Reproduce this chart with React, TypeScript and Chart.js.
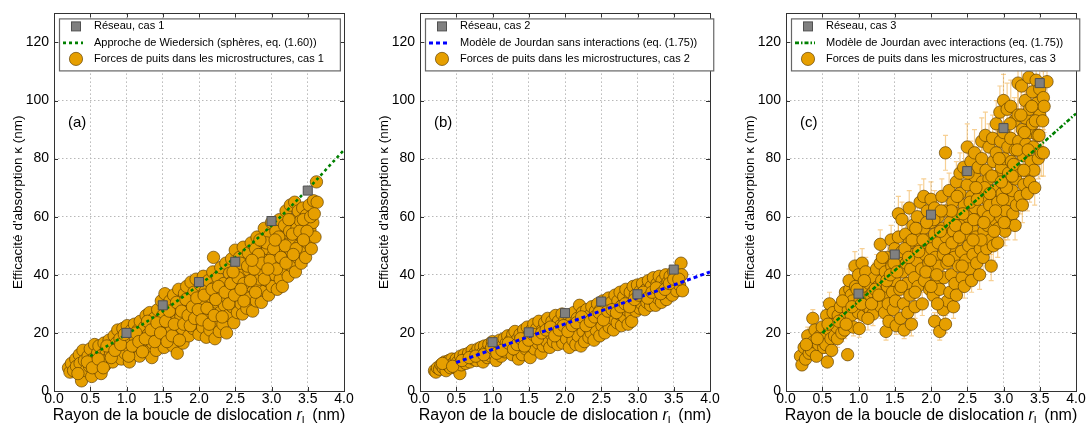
import React, { useEffect, useRef } from 'react';
import { Chart, registerables } from 'chart.js';
Chart.register(...registerables);

const FONT = '"Liberation Sans", Arial, Helvetica, sans-serif';

const X_MIN = 0;
const X_MAX = 4;
const X_STEP = 0.5;
const Y_MIN = 0;
const Y_MAX = 130;
const Y_STEP = 20;

const X_TITLE_MAIN = 'Rayon de la boucle de dislocation ';
const X_TITLE_VAR = 'r';
const X_TITLE_SUB = 'L';
const X_TITLE_UNIT = ' (nm)';
const Y_TITLE = "Efficacité d'absorption κ (nm)";

// ---------- Panel (a) ----------
const tagA = '(a)';
const legendA = ['Réseau, cas 1', 'Approche de Wiedersich (sphères, eq. (1.60))', 'Forces de puits dans les microstructures, cas 1'];
const squaresA: [number, number][] = [[1.0, 20], [1.5, 29.5], [2.0, 37.5], [2.5, 44.5], [3.0, 58.5], [3.5, 69]];
const lineA: [number, number][] = [[0.5, 12], [1.0, 19.5], [1.5, 27.5], [2.0, 36.5], [2.5, 46], [3.0, 57], [3.5, 69.5], [4.0, 83]];
const pointsA1: [number, number][] = [
  [0.20,8],[0.22,6.5],[0.24,9.5],[0.27,7],[0.30,11],[0.31,8.5],[0.35,12.5],[0.36,9.5],[0.38,3.5],[0.40,14],[0.42,10.5],[0.44,7],[0.47,12],[0.49,8.5],[0.50,14.5],[0.52,5],[0.54,11],[0.56,16],[0.58,8],[0.60,13],[0.62,15.5],[0.63,10],[0.65,6],[0.67,12.5],[0.69,16.5],[0.71,9],[0.72,14],[0.74,11],[0.76,17.5],[0.78,13],[0.80,15.5],[0.81,10],[0.83,19],[0.85,12.5],[0.86,16.5],[0.88,21],[0.90,14],[0.91,18],[0.93,11],[0.95,21.5],[0.96,16],[0.98,13],[1.00,19],[1.01,22.5],[1.02,15.5],[1.04,10],[1.06,17.5],[1.07,21],[1.09,13],[1.11,23],[1.12,18.5],[1.14,15],[1.16,21],[1.18,12],[1.19,24],[1.21,19],[1.23,16],[1.25,22],[1.27,26],[1.28,13.5],[1.30,19.5],[1.32,27],[1.33,23],[1.35,11.5],[1.36,16.5],[1.38,25],[1.40,20],[1.41,14],[1.43,28],[1.45,22.5],[1.46,17.5],[1.48,31],[1.50,26],[1.51,20],[1.52,15],[1.53,33.5],[1.55,29],[1.57,23.5],[1.58,18],[1.60,31],[1.61,26.5],[1.62,21],[1.64,15.5],[1.65,33],[1.67,28.5],[1.68,24],[1.70,13],[1.71,19.5],[1.72,35],[1.74,30],[1.75,25.5],[1.77,21.5],[1.78,16.5],[1.80,33.5],[1.81,28],[1.83,36],[1.84,23.5],[1.86,19],[1.87,31],[1.89,37.5],[1.90,26.5],[1.92,21.5],[1.93,34],[1.95,29],[1.96,38.5],[1.98,24],[2.00,19.5],[2.01,32],[2.02,36.5],[2.03,27],[2.05,22],[2.06,39.5],[2.08,30],[2.09,34.5],[2.10,18.5],[2.12,25],[2.13,38],[2.15,21],[2.16,32.5],[2.17,28],[2.19,41],[2.20,46],[2.21,35.5],[2.22,18],[2.24,24],[2.25,30.5],[2.26,39],[2.28,20.5],[2.29,27],[2.30,42.5],[2.31,33.5],[2.33,23],[2.34,37],[2.35,29.5],[2.37,44],[2.38,20],[2.39,32],[2.40,26],[2.42,40.5],[2.43,35],[2.45,45.5],[2.46,29],[2.47,38],[2.48,23.5],[2.50,48.5],[2.51,32],[2.52,42.5],[2.53,27],[2.55,36],[2.56,46],[2.58,30],[2.59,40],[2.60,26.5],[2.61,49.5],[2.63,34],[2.64,44],[2.65,37.5],[2.66,28.5],[2.68,47.5],[2.69,41.5],[2.70,32],[2.72,51],[2.73,36],[2.74,27.5],[2.75,45],[2.77,39.5],[2.78,49],[2.79,31],[2.80,53],[2.81,35],[2.83,43],[2.84,38.5],[2.85,47],[2.86,30.5],[2.88,51.5],[2.89,41],[2.90,56],[2.91,34.5],[2.92,45],[2.94,38],[2.95,49],[2.96,33],[2.97,53.5],[2.99,42],[3.00,58],[3.01,36],[3.02,46.5],[3.04,51],[3.05,40],[3.06,55],[3.08,35],[3.09,44],[3.10,49],[3.11,59],[3.12,38.5],[3.14,53],[3.15,36],[3.16,47],[3.17,42],[3.18,57],[3.20,62],[3.21,50.5],[3.22,45],[3.23,39.5],[3.25,55],[3.26,64],[3.27,48],[3.28,43],[3.30,59],[3.31,52],[3.32,65],[3.33,41],[3.35,56],[3.36,46],[3.37,62],[3.38,50],[3.40,58.5],[3.41,44],[3.42,53],[3.43,63],[3.45,48],[3.46,56],[3.47,46],[3.48,60.5],[3.50,51],[3.52,64],[3.53,55.5],[3.55,49],[3.57,58],[3.58,65.5],[3.60,53],[3.62,72],[3.63,65]
];
const pointsA2: [number, number][] = [
  [0.33,6],[0.46,10],[0.53,8],[0.61,11],[0.68,8],[0.73,15.5],[0.79,11.5],[0.84,14],[0.92,16],[0.97,19.5],[1.03,12],[1.08,15.5],[1.13,20],[1.17,17],[1.22,13.5],[1.26,18],[1.29,24],[1.34,21],[1.39,17],[1.42,23.5],[1.47,20],[1.54,24],[1.56,17],[1.59,27.5],[1.63,19],[1.66,23],[1.69,30.5],[1.73,17.5],[1.76,27.5],[1.79,23],[1.82,31.5],[1.85,26],[1.88,22.5],[1.91,29],[1.94,25],[1.97,32],[1.99,28],[2.04,24.5],[2.07,33],[2.11,28.5],[2.14,23],[2.18,35],[2.21,26],[2.23,31.5],[2.27,36],[2.32,25.5],[2.36,34],[2.41,30],[2.44,37],[2.49,33],[2.54,39],[2.57,44],[2.62,37],[2.62,31],[2.67,43],[2.71,38],[2.76,42],[2.78,34],[2.82,47],[2.87,44],[2.90,38.5],[2.93,51],[2.98,45],[3.03,49],[3.07,42],[3.10,53],[3.13,46],[3.19,50],[3.24,59],[3.29,54],[3.34,49],[3.39,55],[3.44,59],[3.49,55],[3.54,60],[3.59,61],[2.47,41],[2.58,35],[2.73,45],[2.84,52],[2.95,42],[3.05,52],[3.20,44],[3.30,47],[3.44,52]
];

// ---------- Panel (b) ----------
const tagB = '(b)';
const legendB = ['Réseau, cas 2', 'Modèle de Jourdan sans interactions (eq. (1.75))', 'Forces de puits dans les microstructures, cas 2'];
const squaresB: [number, number][] = [[1.0, 16.8], [1.5, 20.2], [2.0, 26.8], [2.5, 30.8], [3.0, 33.3], [3.5, 41.8]];
const lineB: [number, number][] = [[0.5, 9.8], [1.0, 14.3], [1.5, 18.7], [2.0, 23.1], [2.5, 27.6], [3.0, 32.1], [3.5, 36.5], [4.0, 41]];
const pointsB1: [number, number][] = [
  [0.20,7],[0.22,6.5],[0.24,8],[0.27,7.5],[0.29,9],[0.32,8],[0.34,10],[0.36,7],[0.38,9],[0.40,10.5],[0.42,8],[0.44,11],[0.46,9.5],[0.49,8],[0.50,11],[0.52,10],[0.55,6],[0.56,12],[0.57,9],[0.60,11],[0.61,12.5],[0.63,9.5],[0.65,11.5],[0.67,13],[0.69,10],[0.71,12],[0.72,14],[0.74,11],[0.76,13],[0.78,10.5],[0.80,14.5],[0.82,12],[0.84,15],[0.86,13],[0.87,10],[0.89,15.5],[0.91,13.5],[0.93,11.5],[0.95,16],[0.97,14],[0.98,12],[1.00,17],[1.02,15],[1.03,12.5],[1.05,10.5],[1.07,16],[1.08,14],[1.10,17.5],[1.12,12],[1.14,15.5],[1.16,18],[1.17,13.5],[1.19,16.5],[1.21,19],[1.23,14.5],[1.25,17.5],[1.27,12.5],[1.28,19.5],[1.30,16],[1.31,20.5],[1.33,14],[1.35,18],[1.36,11],[1.38,19.5],[1.40,16.5],[1.41,12.5],[1.43,21],[1.45,18],[1.46,14.5],[1.48,22],[1.49,16],[1.51,19.5],[1.52,11.5],[1.54,21],[1.55,17],[1.57,23],[1.58,14.5],[1.60,19],[1.61,21.5],[1.63,16.5],[1.64,24],[1.66,18.5],[1.67,13],[1.69,21],[1.70,15.5],[1.72,23.5],[1.73,19],[1.75,17],[1.76,25],[1.78,21.5],[1.79,15],[1.81,19.5],[1.82,24],[1.84,17],[1.85,22],[1.87,26],[1.88,20],[1.90,16],[1.91,24],[1.93,18.5],[1.94,22.5],[1.96,26.5],[1.97,16.5],[1.99,20.5],[2.00,24.5],[2.02,18],[2.03,22],[2.05,26],[2.06,15],[2.08,20],[2.09,24],[2.11,17.5],[2.12,27],[2.14,21.5],[2.15,16],[2.17,25],[2.18,19],[2.20,29.5],[2.21,23],[2.22,15.5],[2.24,27],[2.25,20.5],[2.27,17],[2.28,24.5],[2.30,28],[2.31,22],[2.33,18.5],[2.34,26],[2.36,20],[2.37,29],[2.39,23.5],[2.40,17.5],[2.42,27.5],[2.43,21],[2.45,30],[2.46,25],[2.48,19],[2.49,28],[2.51,22.5],[2.52,31],[2.54,26],[2.55,20],[2.57,29],[2.58,24],[2.60,32],[2.61,22],[2.63,27],[2.64,30.5],[2.66,25],[2.67,21],[2.69,33],[2.70,28.5],[2.72,23.5],[2.73,31],[2.75,26.5],[2.76,34],[2.78,22.5],[2.79,29.5],[2.81,32.5],[2.82,25.5],[2.84,35],[2.85,28],[2.87,23],[2.88,31],[2.90,34],[2.91,26.5],[2.92,24],[2.94,36],[2.95,29.5],[2.97,33],[2.98,27.5],[3.00,36.5],[3.01,31],[3.03,28.5],[3.04,34.5],[3.06,30],[3.07,37],[3.09,32.5],[3.10,28],[3.12,35],[3.13,30.5],[3.15,38],[3.16,33],[3.18,29.5],[3.19,36],[3.21,31.5],[3.22,39],[3.24,34],[3.25,29.5],[3.27,37],[3.28,32],[3.30,39.5],[3.31,35],[3.33,30.5],[3.34,38],[3.36,33.5],[3.37,36],[3.39,40],[3.40,31.5],[3.42,37.5],[3.43,34],[3.45,39.5],[3.46,35.5],[3.48,33],[3.50,41],[3.52,37],[3.54,34.5],[3.56,40],[3.58,36.5],[3.60,44],[3.61,40],[3.62,34.5]
];
const pointsB2: [number, number][] = [
  [0.31,9.5],[0.45,8.5],[0.58,10.5],[0.68,11.5],[0.77,12],[0.88,12.5],[0.99,15],[1.06,13],[1.13,14],[1.22,16.5],[1.29,14.5],[1.34,16],[1.39,18],[1.44,15.5],[1.50,17.5],[1.56,19.5],[1.62,18],[1.68,20],[1.74,21],[1.80,22],[1.86,19],[1.92,21],[1.98,22.5],[2.04,20.5],[2.10,22.5],[2.16,23.5],[2.23,25.5],[2.29,22.5],[2.35,24],[2.41,25.5],[2.47,27],[2.53,24.5],[2.59,27.5],[2.65,28],[2.71,27],[2.77,29],[2.83,30],[2.89,29],[2.96,31.5],[3.02,33],[3.08,34],[3.14,32],[3.20,34],[3.26,35.5],[3.32,33.5],[3.38,35],[3.44,37],[3.50,38.5],[3.57,38.5]
];

// ---------- Panel (c) ----------
const tagC = '(c)';
const legendC = ['Réseau, cas 3', 'Modèle de Jourdan avec interactions (eq. (1.75))', 'Forces de puits dans les microstructures, cas 3'];
const squaresC: [number, number][] = [[1.0, 33.5], [1.5, 47], [2.0, 60.7], [2.5, 75.7], [3.0, 90.5], [3.5, 106]];
const lineC: [number, number][] = [[0.5, 20], [1.0, 30.8], [1.5, 41.5], [2.0, 52.3], [2.5, 63], [3.0, 73.8], [3.5, 84.5], [4.0, 95.5]];
// [x, y, error]
const pointsC1: [number, number, number][] = [
  [0.2,12,2],[0.22,9,2],[0.25,15,2],[0.27,11,2],[0.3,19,3],[0.32,13,2],[0.35,14,2],[0.37,25,3],[0.38,17,2],[0.4,21,3],[0.42,12,2],[0.45,16,3],[0.47,19,3],[0.5,22,3],[0.52,15,2],[0.5,18,3],
  [0.55,16,3],[0.57,10,2],[0.56,26,3],[0.6,30,4],[0.6,21,3],[0.62,18,3],[0.65,27,3],[0.66,23,3],[0.67,19,3],[0.7,22,3],[0.72,26,3],[0.71,18,3],[0.75,29,4],[0.76,24,3],[0.77,20,3],
  [0.8,25,3],[0.82,34,4],[0.81,21,3],[0.85,12.5,2],[0.86,28,4],[0.88,35,4],[0.87,38,4],[0.9,33,4],[0.92,31,4],[0.9,26,3],[0.93,22,3],[0.95,43,5],[0.96,36,4],[0.97,29,4],
  [1.0,40,5],[1.0,27,4],[1.02,31,4],[1.01,21.5,3],[1.05,44,5],[1.06,35,4],[1.07,26,4],[1.1,41,5],[1.1,32,4],[1.12,29,4],[1.15,37,4],[1.16,28,4],[1.17,33,4],[1.2,34,4],[1.2,26.5,4],[1.22,39,5],
  [1.25,42,5],[1.26,31,4],[1.27,36,4],[1.3,50.5,5],[1.3,44,5],[1.31,29,4],[1.32,38,4],[1.35,33,4],[1.36,27,4],[1.37,41,5],[1.38,20.5,3],[1.4,46,5],[1.4,36,4],[1.42,24,4],[1.41,30,4],
  [1.45,52,5],[1.46,43,5],[1.47,34,4],[1.48,28,4],[1.5,49,5],[1.5,38,4],[1.52,22.5,3],[1.51,31,4],[1.55,61,6],[1.55,53,5],[1.56,45,5],[1.57,35,4],[1.58,25,4],
  [1.6,59,6],[1.6,48,5],[1.61,41,5],[1.62,30,4],[1.63,21,3],[1.65,54,5],[1.66,44,5],[1.67,37,4],[1.68,27,4],[1.7,63,6],[1.7,51,5],[1.72,42,5],[1.71,33,4],[1.73,23,4],
  [1.75,57,6],[1.76,47,5],[1.77,39,5],[1.78,29,4],[1.8,53,5],[1.8,45,5],[1.82,36,4],[1.81,60,6],[1.85,65,6],[1.86,50,5],[1.87,42,5],[1.88,30,4],[1.9,67,6],[1.9,56,5],[1.92,47,5],[1.91,38,4],
  [1.95,62,6],[1.96,52,5],[1.97,44,5],[1.98,35,4],[2.0,66,6],[2.0,58,6],[2.01,49,5],[2.02,41,5],[2.03,33,4],[2.05,63,6],[2.05,54,5],[2.06,46,5],[2.07,37,4],[2.05,24,3],
  [2.1,60,6],[2.1,51,5],[2.11,43,5],[2.12,35,4],[2.12,20.5,3],[2.15,67,6],[2.16,56,5],[2.17,47,5],[2.18,39,5],[2.17,28,4],[2.2,82,6],[2.2,62,6],[2.21,53,5],[2.22,44,5],[2.23,31,4],[2.2,23,3],
  [2.25,69,6],[2.26,58,6],[2.27,49,5],[2.28,40,5],[2.26,34,4],[2.3,65,6],[2.31,55,5],[2.32,46,5],[2.33,37,4],[2.31,29,4],[2.35,72,7],[2.36,61,6],[2.37,52,5],[2.38,43,5],[2.35,33,4],
  [2.4,75,7],[2.4,68,6],[2.41,57,6],[2.42,48,5],[2.43,39,5],[2.45,77,7],[2.46,64,6],[2.47,54,5],[2.48,45,5],[2.46,36,4],[2.5,84,8],[2.5,71,7],[2.51,60,6],[2.52,50,5],[2.53,42,5],
  [2.55,79,7],[2.56,67,6],[2.57,56,5],[2.58,47,5],[2.56,38,4],[2.6,82,8],[2.6,74,7],[2.61,63,6],[2.62,53,5],[2.63,44,5],[2.65,77,7],[2.66,69,6],[2.67,59,6],[2.68,49,5],[2.67,40,5],
  [2.7,86,8],[2.7,80,7],[2.71,72,7],[2.72,62,6],[2.73,55,5],[2.72,46,5],[2.75,88,8],[2.76,76,7],[2.77,66,6],[2.78,57,6],[2.77,49,5],[2.8,84,8],[2.8,73,7],[2.81,64,6],[2.82,52,5],[2.83,43,5],
  [2.85,87,8],[2.86,79,7],[2.87,69,6],[2.88,59,6],[2.86,50,5],[2.9,92,8],[2.9,82,8],[2.91,74,7],[2.92,65,6],[2.93,56,5],[2.92,51,5],[2.95,96,9],[2.96,86,8],[2.97,77,7],[2.98,68,6],[2.96,60,6],
  [3.0,100,9],[3.0,89,8],[3.01,80,7],[3.02,71,7],[3.03,62,6],[3.02,55,5],[3.05,97,9],[3.06,84,8],[3.07,75,7],[3.08,66,6],[3.06,58,6],[3.1,98,9],[3.1,87,8],[3.11,79,7],[3.12,69,6],[3.13,61,6],
  [3.15,93,8],[3.16,83,8],[3.17,73,7],[3.18,64,6],[3.16,57,5],[3.2,106,9],[3.2,95,9],[3.21,86,8],[3.22,76,7],[3.23,67,6],[3.25,105,9],[3.26,90,8],[3.27,81,7],[3.28,71,7],[3.26,64,6],
  [3.3,100,9],[3.3,94,9],[3.31,85,8],[3.32,76,7],[3.33,68,6],[3.35,108,10],[3.36,97,9],[3.37,89,8],[3.38,79,7],[3.36,72,7],[3.4,103,9],[3.4,92,8],[3.41,84,8],[3.42,76,7],[3.43,70,6],
  [3.45,107,10],[3.46,99,9],[3.47,88,8],[3.48,80,7],[3.5,104,9],[3.5,95,9],[3.52,82,8],[3.55,101,9],[3.56,98,9],[3.55,82,8],[3.6,106.5,10]
];
const pointsC2: [number, number, number][] = [
  [0.28,16,2],[0.43,18,3],[0.58,23,3],[0.63,14,2],[0.73,24,3],[0.78,31,4],[0.83,23,3],[0.91,29,4],[0.98,35,4],[1.04,30,4],[1.08,38,5],[1.13,25,4],[1.18,30,4],[1.23,35,4],[1.28,33,4],[1.33,46,5],[1.39,38,5],[1.44,40,5],[1.49,44,5],[1.53,41,5],[1.59,36,4],[1.64,49,5],[1.69,46,5],[1.74,52,5],[1.78,34,4],[1.83,48,5],[1.89,52,5],[1.93,41,5],[1.99,45,5],[2.04,59,6],[2.08,40,5],[2.13,55,5],[2.19,49,5],[2.24,45,5],[2.29,51,5],[2.34,57,6],[2.39,53,5],[2.44,61,6],[2.49,56,5],[2.54,65,6],[2.59,59,6],[2.64,66,6],[2.69,52,5],[2.74,70,7],[2.79,60,6],[2.84,74,7],[2.89,62,6],[2.94,80,7],[2.99,66,6],[3.04,70,7],[3.09,92,8],[3.14,78,7],[3.19,83,8],[3.24,95,9],[3.29,89,8],[3.34,83,8],[3.39,98,9],[3.44,93,8],[3.49,88,8],[3.54,93,9],[2.36,67,6],[2.51,75,7],[2.62,70,6],[2.81,68,6],[2.97,72,7],[3.12,74,7],[3.28,76,7],[2.43,43,5],[2.58,52,5],[2.73,58,6],[2.87,55,5],[3.01,58,6],[2.28,62,6],[2.14,62,6],[1.94,58,6],[1.79,56,5],[2.0,36,4],[2.09,30,4]
];

type PanelDef = {
  tag: string;
  legend: string[];
  squares: [number, number][];
  line: [number, number][];
  points: number[][];
  lineColor: string;
  lineDash: number[];
  lineWidth: number;
  errors: boolean;
};

const PANELS: PanelDef[] = [
  { tag: tagA, legend: legendA, squares: squaresA, line: lineA, points: [...pointsA1, ...pointsA2], lineColor: '#008000', lineDash: [3, 3], lineWidth: 2.6, errors: false },
  { tag: tagB, legend: legendB, squares: squaresB, line: lineB, points: [...pointsB1, ...pointsB2], lineColor: '#0000ff', lineDash: [4, 3], lineWidth: 3, errors: false },
  { tag: tagC, legend: legendC, squares: squaresC, line: lineC, points: [...pointsC1, ...pointsC2], lineColor: '#008000', lineDash: [4, 2, 1.5, 2], lineWidth: 2.6, errors: true },
];

const ORANGE = '#E69F00';
const ORANGE_EDGE = 'rgba(95,62,0,0.85)';
const GRAY = '#808080';
const GRAY_EDGE = '#505050';

function makeDecor(p: PanelDef) {
  return {
    id: 'decor',
    beforeDatasetsDraw(chart: any) {
      if (!p.errors) return;
      const { ctx, chartArea: a, scales } = chart;
      ctx.save();
      ctx.beginPath();
      ctx.rect(a.left, a.top, a.right - a.left, a.bottom - a.top);
      ctx.clip();
      ctx.strokeStyle = 'rgba(240,170,60,0.55)';
      ctx.lineWidth = 1.2;
      for (const pt of p.points) {
        const x = scales.x.getPixelForValue(pt[0]);
        const y1 = scales.y.getPixelForValue(pt[1] + pt[2]);
        const y0 = scales.y.getPixelForValue(pt[1] - pt[2]);
        ctx.beginPath();
        ctx.moveTo(x, y0); ctx.lineTo(x, y1);
        ctx.moveTo(x - 2.5, y1); ctx.lineTo(x + 2.5, y1);
        ctx.moveTo(x - 2.5, y0); ctx.lineTo(x + 2.5, y0);
        ctx.stroke();
      }
      ctx.restore();
    },
    afterDraw(chart: any) {
      const { ctx, chartArea: a, scales } = chart;
      ctx.save();
      // frame
      ctx.strokeStyle = '#333';
      ctx.lineWidth = 1;
      ctx.setLineDash([]);
      ctx.strokeRect(Math.round(a.left) + 0.5, Math.round(a.top) + 0.5, Math.round(a.right - a.left), Math.round(a.bottom - a.top));
      // inner ticks
      ctx.beginPath();
      for (let v = X_MIN; v <= X_MAX + 1e-9; v += X_STEP) {
        const x = Math.round(scales.x.getPixelForValue(v)) + 0.5;
        ctx.moveTo(x, a.bottom); ctx.lineTo(x, a.bottom - 4);
        ctx.moveTo(x, a.top); ctx.lineTo(x, a.top + 4);
      }
      for (let v = Y_MIN; v <= 120 + 1e-9; v += Y_STEP) {
        const y = Math.round(scales.y.getPixelForValue(v)) + 0.5;
        ctx.moveTo(a.left, y); ctx.lineTo(a.left + 4, y);
        ctx.moveTo(a.right, y); ctx.lineTo(a.right - 4, y);
      }
      ctx.stroke();

      // panel tag
      ctx.fillStyle = '#000';
      ctx.font = `15px ${FONT}`;
      ctx.textBaseline = 'middle';
      ctx.textAlign = 'left';
      ctx.fillText(p.tag, a.left + 14, a.top + 109);

      // legend
      ctx.font = `11px ${FONT}`;
      const maxW = Math.max(...p.legend.map((t) => ctx.measureText(t).width));
      const bx = a.left + 5.5;
      const by = a.top + 5.5;
      const bw = 40 + maxW + 11;
      const bh = 52;
      ctx.fillStyle = '#fff';
      ctx.fillRect(bx, by, bw, bh);
      ctx.strokeStyle = '#666';
      ctx.lineWidth = 1.2;
      ctx.strokeRect(bx, by, bw, bh);
      const rows = [a.top + 13, a.top + 29.5, a.top + 45.5];
      const mx = a.left + 22;
      ctx.fillStyle = GRAY;
      ctx.strokeStyle = GRAY_EDGE;
      ctx.lineWidth = 1;
      ctx.fillRect(mx - 4.5, rows[0] - 4.5, 9, 9);
      ctx.strokeRect(mx - 4.5, rows[0] - 4.5, 9, 9);
      ctx.strokeStyle = p.lineColor;
      ctx.lineWidth = p.lineWidth;
      ctx.setLineDash(p.lineDash);
      ctx.beginPath();
      ctx.moveTo(a.left + 9, rows[1]);
      ctx.lineTo(a.left + 29, rows[1]);
      ctx.stroke();
      ctx.setLineDash([]);
      ctx.fillStyle = ORANGE;
      ctx.strokeStyle = ORANGE_EDGE;
      ctx.lineWidth = 0.8;
      ctx.beginPath();
      ctx.arc(mx, rows[2], 6.6, 0, Math.PI * 2);
      ctx.fill();
      ctx.stroke();
      ctx.fillStyle = '#000';
      ctx.textBaseline = 'middle';
      p.legend.forEach((t, i) => ctx.fillText(t, a.left + 40, rows[i]));

      // x title with italic variable and subscript
      const fMain = `16px ${FONT}`;
      const fIt = `italic 16px ${FONT}`;
      const fSub = `11px ${FONT}`;
      const parts: [string, string, number][] = [
        [X_TITLE_MAIN, fMain, 0],
        [X_TITLE_VAR, fIt, 0],
        [X_TITLE_SUB, fSub, 4],
        [X_TITLE_UNIT, fMain, 0],
      ];
      let total = 0;
      for (const [t, f] of parts) { ctx.font = f; total += ctx.measureText(t).width; }
      let cx = (a.left + a.right) / 2 - total / 2;
      const base = a.bottom + 29;
      ctx.textBaseline = 'alphabetic';
      ctx.textAlign = 'left';
      for (const [t, f, dy] of parts) {
        ctx.font = f;
        ctx.fillText(t, cx, base + dy);
        cx += ctx.measureText(t).width;
      }

      // y title
      ctx.translate(a.left - 35.5, (a.top + a.bottom) / 2);
      ctx.rotate(-Math.PI / 2);
      ctx.font = `13.5px ${FONT}`;
      ctx.textAlign = 'center';
      ctx.textBaseline = 'middle';
      ctx.fillText(Y_TITLE, 0, 0);
      ctx.restore();
    },
  };
}

function Panel({ def, left }: { def: PanelDef; left: number }) {
  const ref = useRef<HTMLCanvasElement | null>(null);
  useEffect(() => {
    if (!ref.current) return;
    const scaleCommon = {
      grid: { color: '#b8b8b8', drawTicks: false, lineWidth: 1 },
      border: { display: false, dash: [1.5, 2.5] },
    };
    const chart = new Chart(ref.current, {
      type: 'scatter',
      data: {
        datasets: [
          {
            label: def.legend[0],
            data: def.squares.map(([x, y]) => ({ x, y })),
            pointStyle: 'rect',
            pointRadius: 6.4,
            backgroundColor: GRAY,
            borderColor: GRAY_EDGE,
            borderWidth: 1,
          },
          {
            label: def.legend[1],
            data: def.line.map(([x, y]) => ({ x, y })),
            showLine: true,
            pointRadius: 0,
            borderColor: def.lineColor,
            borderWidth: def.lineWidth,
            borderDash: def.lineDash,
            cubicInterpolationMode: 'monotone',
            fill: false,
          } as any,
          {
            label: def.legend[2],
            data: def.points.map((pt) => ({ x: pt[0], y: pt[1] })),
            pointStyle: 'circle',
            pointRadius: 6.2,
            backgroundColor: ORANGE,
            borderColor: ORANGE_EDGE,
            borderWidth: 0.8,
          },
        ],
      },
      options: {
        responsive: false,
        animation: false,
        devicePixelRatio: 1,
        events: [],
        layout: { padding: { left: 0, right: 18, top: 11, bottom: 0 } },
        plugins: { legend: { display: false }, tooltip: { enabled: false } },
        scales: {
          x: {
            type: 'linear',
            min: X_MIN,
            max: X_MAX,
            afterFit: (s: any) => { s.height = 32; },
            ticks: {
              stepSize: X_STEP,
              includeBounds: false,
              autoSkip: false,
              maxRotation: 0,
              padding: 0,
              color: '#000',
              font: { family: FONT, size: 14 },
              callback: (v: any) => Number(v).toFixed(1),
            },
            ...scaleCommon,
          },
          y: {
            type: 'linear',
            min: Y_MIN,
            max: Y_MAX,
            afterFit: (s: any) => { s.width = 54; },
            ticks: {
              stepSize: Y_STEP,
              includeBounds: false,
              padding: 5,
              color: '#000',
              font: { family: FONT, size: 14 },
            },
            ...scaleCommon,
          },
        },
      } as any,
      plugins: [makeDecor(def)],
    });
    return () => chart.destroy();
  }, [def]);
  return (
    <canvas
      ref={ref}
      width={362}
      height={423}
      style={{ position: 'absolute', left, top: 0, width: 362, height: 423 }}
    />
  );
}

export default function App() {
  return (
    <div style={{ position: 'fixed', left: 0, top: 0, width: 1086, height: 423, overflow: 'hidden', background: '#fff' }}>
      {PANELS.map((d, i) => (
        <Panel key={i} def={d} left={i * 366} />
      ))}
    </div>
  );
}
